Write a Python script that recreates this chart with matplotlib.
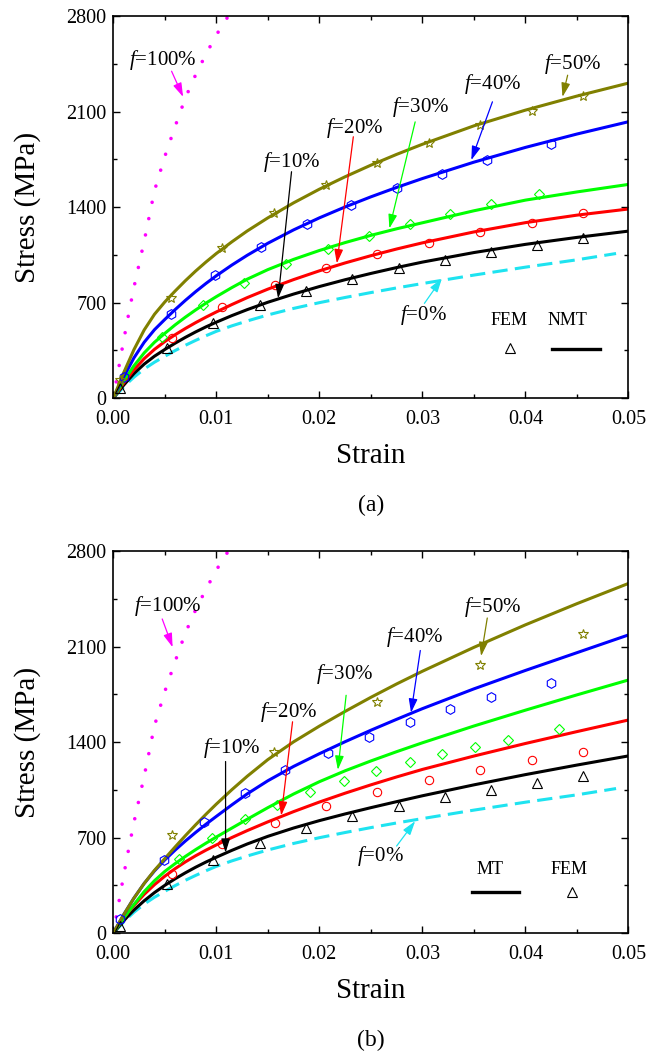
import matplotlib
matplotlib.use('Agg')
import matplotlib.pyplot as plt
from matplotlib.ticker import MultipleLocator, FormatStrFormatter

plt.rcParams['font.family'] = 'Liberation Serif'
plt.rcParams['mathtext.fontset'] = 'custom'
plt.rcParams['mathtext.rm'] = 'Liberation Serif'
plt.rcParams['mathtext.it'] = 'Liberation Serif:italic'

# ---- colours ---------------------------------------------------------------
C0, C10, C20, C30, C40, C50, C100 = ('#1EE3F0', 'black', '#FF0000', '#00FF00',
                                     '#0000FF', '#808000', '#FF00FF')

# ---- model curves ------------------------------------------------------------
strain = [0, 0.0005, 0.001, 0.0015, 0.002, 0.003, 0.004, 0.005, 0.006, 0.007,
          0.008, 0.009, 0.01, 0.0115, 0.013, 0.015, 0.0175, 0.02, 0.0225,
          0.025, 0.0275, 0.03, 0.035, 0.04, 0.045, 0.05]

# pure phases (same in both panels)
strain_f0 = [0, 0.0005, 0.001, 0.0015, 0.002, 0.003, 0.004, 0.005, 0.006, 0.007,
             0.008, 0.009, 0.01, 0.0115, 0.013, 0.015, 0.0175, 0.02, 0.0225,
             0.025, 0.0275, 0.03, 0.035, 0.04, 0.045, 0.0488]
stress_f0 = [0, 41, 82, 119, 154, 214, 264, 307, 349, 388, 424, 458, 490, 530,
             566, 610, 658, 700, 738, 774, 808, 840, 902, 960, 1014, 1060]
strain_f100 = [0, 0.0005, 0.001, 0.0015, 0.002, 0.003, 0.004, 0.005,
               0.006, 0.007, 0.008, 0.009, 0.010, 0.011, 0.012]
stress_f100 = [0, 210, 420, 620, 810, 1150, 1520, 1770,
               1990, 2200, 2370, 2520, 2660, 2780, 2890]

# (a) NMT
nmt_f10 = [0, 48, 95, 138, 180, 250, 308, 357, 403, 446, 486, 523, 557, 605,
           649, 703, 763, 818, 868, 914, 957, 997, 1067, 1127, 1178, 1224]
nmt_f20 = [0, 55, 110, 159, 208, 290, 358, 415, 465, 511, 554, 594, 632, 686,
           737, 799, 869, 933, 991, 1044, 1093, 1138, 1218, 1286, 1341, 1386]
nmt_f30 = [0, 63, 125, 181, 237, 332, 410, 475, 537, 594, 647, 697, 744, 810,
           872, 942, 1017, 1082, 1140, 1193, 1241, 1285, 1373, 1451, 1511, 1566]
nmt_f40 = [0, 78, 155, 225, 295, 410, 502, 577, 649, 717, 781, 841, 897, 975,
           1047, 1135, 1233, 1321, 1401, 1475, 1544, 1609, 1729, 1837, 1935, 2025]
nmt_f50 = [0, 93, 185, 270, 355, 500, 615, 705, 785, 861, 932, 998, 1060, 1145,
           1225, 1321, 1431, 1531, 1622, 1707, 1786, 1860, 1995, 2110, 2213, 2308]

# (b) MT
mt_f10 = [0, 46, 90, 132, 170, 238, 298, 351, 399, 443, 484, 522, 557, 607,
          654, 710, 771, 825, 874, 920, 964, 1007, 1087, 1162, 1232, 1299]
mt_f20 = [0, 57, 110, 158, 203, 285, 356, 418, 473, 523, 568, 609, 647, 701,
          752, 816, 891, 961, 1026, 1087, 1145, 1200, 1298, 1390, 1477, 1562]
mt_f30 = [0, 56, 110, 160, 210, 305, 385, 453, 510, 563, 613, 660, 705, 770,
          835, 920, 1020, 1110, 1190, 1262, 1330, 1395, 1518, 1634, 1746, 1855]
mt_f40 = [0, 68, 135, 196, 257, 365, 457, 537, 609, 676, 739, 799, 856, 940,
          1021, 1117, 1222, 1315, 1403, 1487, 1567, 1645, 1790, 1925, 2055, 2185]
mt_f50 = [0, 68, 135, 196, 257, 365, 461, 547, 632, 715, 795, 872, 946, 1051,
          1150, 1272, 1402, 1517, 1625, 1728, 1826, 1919, 2094, 2259, 2414, 2562]

# ---- FEM results (a) ---------------------------------------------------------
fem_a_f10_x = [0.0007, 0.0052, 0.0097, 0.0142, 0.0187, 0.0232, 0.0277, 0.0322, 0.0367, 0.0411, 0.0456]
fem_a_f10_y = [75, 366, 549, 683, 785, 876, 951, 1012, 1073, 1124, 1171]
fem_a_f20_x = [0.0057, 0.0106, 0.0157, 0.0206, 0.0256, 0.0306, 0.0356, 0.0406, 0.0456]
fem_a_f20_y = [444, 666, 829, 951, 1054, 1134, 1220, 1285, 1354]
fem_a_f30_x = [0.0047, 0.0087, 0.0127, 0.0168, 0.0208, 0.0248, 0.0288, 0.0327, 0.0367, 0.0413]
fem_a_f30_y = [451, 683, 846, 980, 1095, 1188, 1273, 1346, 1420, 1493]
fem_a_f40_x = [0.0010, 0.0056, 0.0099, 0.0143, 0.0188, 0.0231, 0.0275, 0.0319, 0.0363, 0.0425]
fem_a_f40_y = [159, 615, 900, 1110, 1278, 1417, 1541, 1646, 1744, 1861]
fem_a_f50_x = [0.0007, 0.0056, 0.0106, 0.0156, 0.0206, 0.0256, 0.0306, 0.0356, 0.0406, 0.0456]
fem_a_f50_y = [134, 737, 1098, 1354, 1561, 1720, 1866, 1998, 2102, 2215]

# ---- FEM results (b) ---------------------------------------------------------
fem_b_f10_x = [0.0007, 0.0052, 0.0097, 0.0142, 0.0187, 0.0232, 0.0277, 0.0322, 0.0367, 0.0411, 0.0456]
fem_b_f10_y = [56, 359, 534, 663, 772, 857, 930, 995, 1050, 1104, 1150]
fem_b_f20_x = [0.0057, 0.0106, 0.0157, 0.0206, 0.0256, 0.0306, 0.0356, 0.0406, 0.0456]
fem_b_f20_y = [432, 655, 808, 933, 1033, 1124, 1197, 1267, 1326]
fem_b_f30_x = [0.0064, 0.0096, 0.0128, 0.0159, 0.0191, 0.0224, 0.0255, 0.0288,
               0.0319, 0.0351, 0.0383, 0.0433]
fem_b_f30_y = [541, 699, 838, 942, 1032, 1112, 1185, 1253, 1314, 1367, 1418, 1494]
fem_b_f40_x = [0.0007, 0.0049, 0.0088, 0.0128, 0.0167, 0.0208, 0.0248, 0.0288,
               0.0327, 0.0367, 0.0425]
fem_b_f40_y = [104, 537, 818, 1027, 1197, 1323, 1440, 1549, 1641, 1731, 1835]
fem_b_f50_x = [0.0057, 0.0156, 0.0256, 0.0356, 0.0456]
fem_b_f50_y = [723, 1330, 1695, 1962, 2190]

fig = plt.figure(figsize=(6.48, 10.62), dpi=100)
ax_a = fig.add_axes([0.1748, 0.625, 0.795, 0.360])
ax_b = fig.add_axes([0.1748, 0.1212, 0.795, 0.360])

mk = dict(linestyle='none', markerfacecolor='none', markeredgewidth=0.8)


def base_curves(ax):
    ax.plot(strain_f0, stress_f0, color=C0, lw=2.2, linestyle=(0, (5, 2.4)))
    ax.plot(strain_f100, stress_f100, color=C100, lw=2.6,
            linestyle=(0, (0.01, 4.6)), dash_capstyle='round')


def style_axes(ax, label):
    ax.set_xlim(0, 0.05)
    ax.set_ylim(0, 2800)
    ax.xaxis.set_major_locator(MultipleLocator(0.01))
    ax.xaxis.set_minor_locator(MultipleLocator(0.005))
    ax.yaxis.set_major_locator(MultipleLocator(700))
    ax.yaxis.set_minor_locator(MultipleLocator(350))
    ax.xaxis.set_major_formatter(FormatStrFormatter('%.2f'))
    ax.tick_params(which='both', direction='in', top=True, right=True,
                   labelsize=14.5, width=1.0, pad=5)
    ax.tick_params(axis='x', which='both', pad=8.5)
    ax.tick_params(which='major', length=5)
    ax.tick_params(which='minor', length=3)
    for s in ax.spines.values():
        s.set_linewidth(1.2)
    ax.set_xlabel('Strain', fontsize=21)
    ax.set_ylabel('Stress (MPa)', fontsize=21)
    ax.xaxis.set_label_coords(0.5, -0.118)
    ax.yaxis.set_label_coords(-0.14, 0.5)
    ax.text(0.5, -0.28, label, transform=ax.transAxes, ha='center',
            va='center', fontsize=17)


def tag(ax, text, txy, start, tip, color):
    ax.text(txy[0], txy[1], text, ha='center', va='center', fontsize=15)
    ax.annotate('', xy=tip, xytext=start,
                arrowprops=dict(arrowstyle='-|>,head_length=0.7,head_width=0.22',
                                color=color, lw=0.9, shrinkA=0, shrinkB=0,
                                mutation_scale=12))


# ---- (a) ---------------------------------------------------------------------
base_curves(ax_a)
ax_a.plot(strain, nmt_f10, color=C10, lw=2.2)
ax_a.plot(strain, nmt_f20, color=C20, lw=2.2)
ax_a.plot(strain, nmt_f30, color=C30, lw=2.2)
ax_a.plot(strain, nmt_f40, color=C40, lw=2.2)
ax_a.plot(strain, nmt_f50, color=C50, lw=2.2)
ax_a.plot(fem_a_f10_x, fem_a_f10_y, marker='^', ms=6.5, markeredgecolor=C10, **mk)
ax_a.plot(fem_a_f20_x, fem_a_f20_y, marker='o', ms=6, markeredgecolor=C20, **mk)
ax_a.plot(fem_a_f30_x, fem_a_f30_y, marker='D', ms=5.5, markeredgecolor=C30, **mk)
ax_a.plot(fem_a_f40_x, fem_a_f40_y, marker='h', ms=7, markeredgecolor=C40, **mk)
ax_a.plot(fem_a_f50_x, fem_a_f50_y, marker='*', ms=7, markeredgecolor=C50, **mk)

tag(ax_a, '$f$=100%', (0.0048, 2476), (0.00566, 2395), (0.00678, 2207), C100)
tag(ax_a, '$f$=50%', (0.0446, 2451), (0.0441, 2366), (0.0436, 2207), C50)
tag(ax_a, '$f$=40%', (0.0368, 2305), (0.0368, 2171), (0.03475, 1744), C40)
tag(ax_a, '$f$=30%', (0.0298, 2134), (0.0293, 2024), (0.0268, 1244), C30)
tag(ax_a, '$f$=20%', (0.0234, 1980), (0.0233, 1915), (0.0217, 988), C20)
tag(ax_a, '$f$=10%', (0.0173, 1732), (0.0173, 1659), (0.0160, 732), C10)
tag(ax_a, '$f$=0%', (0.0301, 610), (0.0302, 695), (0.0319, 878), C0)

ax_a.text(0.0384, 568, 'FEM', ha='center', va='center', fontsize=13)
ax_a.plot([0.0385], [366], marker='^', ms=6.5, markeredgecolor='black', **mk)
ax_a.text(0.0441, 568, 'NMT', ha='center', va='center', fontsize=13)
ax_a.plot([0.0426, 0.0472], [361, 361], color='black', lw=2.4)
style_axes(ax_a, '(a)')

# ---- (b) ---------------------------------------------------------------------
base_curves(ax_b)
ax_b.plot(strain, mt_f10, color=C10, lw=2.2)
ax_b.plot(strain, mt_f20, color=C20, lw=2.2)
ax_b.plot(strain, mt_f30, color=C30, lw=2.2)
ax_b.plot(strain, mt_f40, color=C40, lw=2.2)
ax_b.plot(strain, mt_f50, color=C50, lw=2.2)
ax_b.plot(fem_b_f10_x, fem_b_f10_y, marker='^', ms=6.5, markeredgecolor=C10, **mk)
ax_b.plot(fem_b_f20_x, fem_b_f20_y, marker='o', ms=6, markeredgecolor=C20, **mk)
ax_b.plot(fem_b_f30_x, fem_b_f30_y, marker='D', ms=5.5, markeredgecolor=C30, **mk)
ax_b.plot(fem_b_f40_x, fem_b_f40_y, marker='h', ms=7, markeredgecolor=C40, **mk)
ax_b.plot(fem_b_f50_x, fem_b_f50_y, marker='*', ms=7, markeredgecolor=C50, **mk)

tag(ax_b, '$f$=100%', (0.0053, 2399), (0.00475, 2302), (0.00576, 2095), C100)
tag(ax_b, '$f$=50%', (0.0368, 2387), (0.0363, 2309), (0.0357, 2030), C50)
tag(ax_b, '$f$=40%', (0.0292, 2168), (0.0298, 2071), (0.0289, 1615), C40)
tag(ax_b, '$f$=30%', (0.0225, 1901), (0.0226, 1743), (0.0218, 1197), C30)
tag(ax_b, '$f$=20%', (0.0170, 1622), (0.0174, 1549), (0.0163, 862), C20)
tag(ax_b, '$f$=10%', (0.0115, 1355), (0.0109, 1258), (0.0109, 590), C10)
tag(ax_b, '$f$=0%', (0.0259, 566), (0.0275, 639), (0.0293, 821), C0)

ax_b.text(0.0366, 469, 'MT', ha='center', va='center', fontsize=13)
ax_b.plot([0.0348, 0.0394], [303, 303], color='black', lw=2.4)
ax_b.text(0.0442, 469, 'FEM', ha='center', va='center', fontsize=13)
ax_b.plot([0.0445], [306], marker='^', ms=6.5, markeredgecolor='black', **mk)
style_axes(ax_b, '(b)')

fig.savefig('out.png', dpi=100, facecolor='white')
